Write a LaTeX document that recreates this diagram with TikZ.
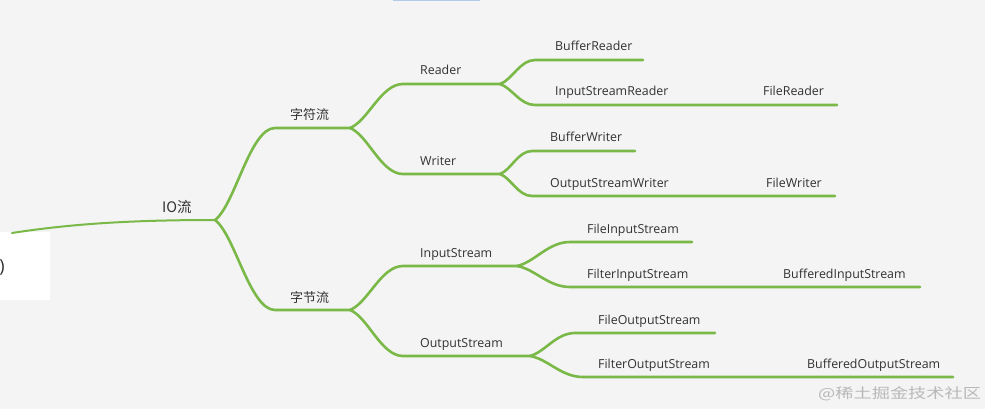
\documentclass[tikz,border=0pt]{standalone}
\usepackage{fontspec}
\setmainfont{Open Sans}
\newfontfamily\cjk{Noto Sans CJK SC}
\definecolor{stem}{RGB}{122,184,72}
\definecolor{ink}{RGB}{50,50,50}
\definecolor{paper}{RGB}{244,244,244}
\definecolor{topbar}{RGB}{176,204,234}
\tikzset{
  limb/.style={draw=stem, line width=2.6pt, line cap=round},
  lbl/.style={anchor=base west, inner sep=0pt, text=ink, font=\fontsize{12.4}{14}\selectfont},
  hlbl/.style={lbl, font=\cjk\fontsize{13}{15}\selectfont},
}

\begin{document}
\begin{tikzpicture}[x=1pt,y=-1pt]
  \fill[paper] (0,0) rectangle (985,409); \useasboundingbox (0,0) rectangle (985,409);
  \fill[white] (0,232) rectangle (50,300); \node[lbl, anchor=base east, font=\fontsize{18}{20}\selectfont] (paren) at (5,272) {)};
  \fill[topbar] (393,0) rectangle (480,1.5);
  % trunk and first split
  \coordinate (root) at (12,233); \coordinate (io) at (215,220);
  \draw[limb, line width=2pt] (root) .. controls (70,224) and (130,220) .. (io); \node[hlbl, font=\cjk\fontsize{14.5}{16}\selectfont] (iolbl) at (162,212.5) {IO流};
  \coordinate (zf) at (275,128); \coordinate (zfe) at (350,128); \coordinate (zj) at (275,310); \coordinate (zje) at (350,310);
  \draw[limb] (io) .. controls +(20,-15) and +(-25,0) .. (zf) -- (zfe); \node[hlbl] (zflbl) at (290,120) {字符流};
  \draw[limb] (io) .. controls +(20,15) and +(-25,0) .. (zj) -- (zje); \node[hlbl] (zjlbl) at (290,302) {字节流};
  % second level
  \coordinate (rd) at (403,84); \coordinate (rde) at (500,84); \coordinate (wr) at (403,174); \coordinate (wre) at (500,174);
  \draw[limb] (zfe) .. controls +(18,-7) and +(-22,0) .. (rd) -- (rde); \node[lbl] (rdlbl) at (420,75) {Reader};
  \draw[limb] (zfe) .. controls +(18,7) and +(-22,0) .. (wr) -- (wre); \node[lbl] (wrlbl) at (420,165) {Writer};
  \coordinate (is) at (403,266); \coordinate (ise) at (517,266); \coordinate (os) at (403,356); \coordinate (ose) at (530,356);
  \draw[limb] (zje) .. controls +(18,-7) and +(-22,0) .. (is) -- (ise); \node[lbl] (islbl) at (420,257) {InputStream};
  \draw[limb] (zje) .. controls +(18,7) and +(-22,0) .. (os) -- (ose); \node[lbl] (oslbl) at (420,347) {OutputStream};
  % third level, Reader / Writer
  \coordinate (br) at (535,60); \coordinate (bre) at (643,60); \coordinate (isr) at (535,105); \coordinate (isre) at (837,105);
  \draw[limb] (rde) .. controls +(12,-4) and +(-15,0) .. (br) -- (bre); \node[lbl] (brlbl) at (555,51) {BufferReader};
  \draw[limb] (rde) .. controls +(12,4) and +(-15,0) .. (isr) -- (isre); \node[lbl] (isrlbl) at (555,96) {InputStreamReader}; \node[lbl] (frlbl) at (763,96) {FileReader};
  \coordinate (bw) at (532,151); \coordinate (bwe) at (635,151); \coordinate (osw) at (532,196); \coordinate (oswe) at (835,196);
  \draw[limb] (wre) .. controls +(11,-4) and +(-14,0) .. (bw) -- (bwe); \node[lbl] (bwlbl) at (550,142) {BufferWriter};
  \draw[limb] (wre) .. controls +(11,4) and +(-14,0) .. (osw) -- (oswe); \node[lbl] (oswlbl) at (550,187) {OutputStreamWriter}; \node[lbl] (fwlbl) at (766,187) {FileWriter};
  % third level, streams
  \coordinate (fis) at (570,242); \coordinate (fise) at (692,242); \coordinate (flis) at (570,287); \coordinate (flise) at (920,287);
  \draw[limb] (ise) .. controls +(18,-4) and +(-22,0) .. (fis) -- (fise); \node[lbl] (fislbl) at (587,233) {FileInputStream};
  \draw[limb] (ise) .. controls +(18,3) and +(-22,0) .. (flis) -- (flise); \node[lbl] (flislbl) at (587,278) {FilterInputStream}; \node[lbl] (bislbl) at (783,278) {BufferedInputStream};
  \coordinate (fos) at (575,333); \coordinate (fose) at (715,333); \coordinate (flos) at (583,377); \coordinate (flose) at (953,377);
  \draw[limb] (ose) .. controls +(15,-4) and +(-19,0) .. (fos) -- (fose); \node[lbl] (foslbl) at (598,324) {FileOutputStream};
  \draw[limb] (ose) .. controls +(18,3) and +(-22,0) .. (flos) -- (flose); \node[lbl] (floslbl) at (598,368) {FilterOutputStream}; \node[lbl] (boslbl) at (807,368) {BufferedOutputStream};
  \node[lbl, text=black!28, font=\cjk\fontsize{14}{16}\selectfont] (mark) at (818,398) {\scalebox{1.3}[1]{@稀土掘金技术社区}};
\end{tikzpicture}
\end{document}
